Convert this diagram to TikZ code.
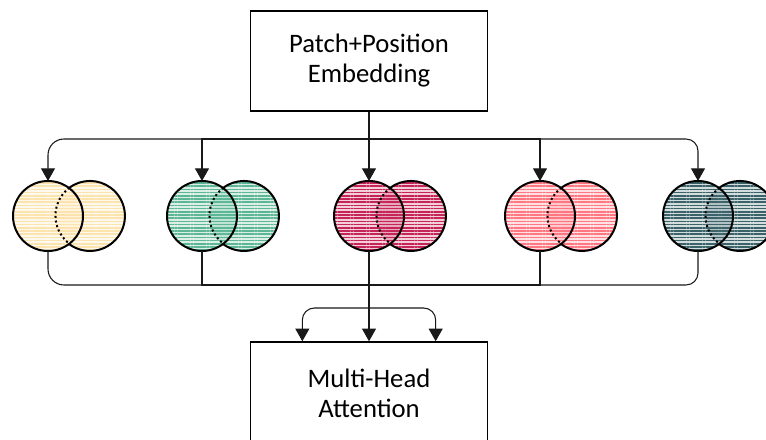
\documentclass[tikz,border=0pt]{standalone}
\usepackage{fontspec}
\setmainfont{Carlito}
\usetikzlibrary{arrows.meta,patterns.meta}

\definecolor{ylw}{RGB}{252,226,172}
\definecolor{grn}{RGB}{90,182,148}
\definecolor{crm}{RGB}{196,36,86}
\definecolor{pnk}{RGB}{255,118,128}
\definecolor{slt}{RGB}{58,98,104}

\begin{document}
\begin{tikzpicture}[x=0.75pt,y=0.75pt,>={Triangle[length=9.5pt,width=10.5pt]},
  box/.style={draw,line width=1.1pt,minimum width=178pt,align=center,
    font=\fontsize{20}{22.5}\selectfont},
  link/.style={line width=0.8pt,black!90},
  ring/.style={line width=1.5pt},
  head/.style={circle,inner sep=0pt,outer sep=0pt,minimum size=52.5pt},
  hatch/.style={preaction={fill=#1,fill opacity=0.22},
    pattern={Lines[angle=0,distance=2.4pt,line width=1.3pt]},pattern color=#1}]
\clip (0,0) rectangle (766,439);

\node[box,minimum height=75pt] (patch) at (369,378) {Patch+Position\\Embedding};
\node[box,minimum height=76.5pt] (mha) at (369,46) {Multi-Head\\Attention};

% five heads, each a pair of overlapping circles
\node[head,hatch=ylw] (d1) at (90,223) {};
\node[head,hatch=ylw,draw,ring] (c1) at (48,223) {};
\node[head,hatch=grn] (d2) at (244,223) {};
\node[head,hatch=grn,draw,ring] (c2) at (202,223) {};
\node[head,hatch=crm] (d3) at (411,223) {};
\node[head,hatch=crm,draw,ring] (c3) at (369,223) {};
\node[head,hatch=pnk] (d4) at (582,223) {};
\node[head,hatch=pnk,draw,ring] (c4) at (540,223) {};
\node[head,hatch=slt] (d5) at (740,223) {};
\node[head,hatch=slt,draw,ring] (c5) at (698,223) {};

% outline of the second circle: solid outside, dotted inside the first
\draw[ring] (d1.233.13) arc[start angle=-126.87,end angle=126.87,radius=26.25pt];
\draw[ring,dotted] (d1.126.87) arc[start angle=126.87,end angle=233.13,radius=26.25pt];
\draw[ring] (d2.233.13) arc[start angle=-126.87,end angle=126.87,radius=26.25pt];
\draw[ring,dotted] (d2.126.87) arc[start angle=126.87,end angle=233.13,radius=26.25pt];
\draw[ring] (d3.233.13) arc[start angle=-126.87,end angle=126.87,radius=26.25pt];
\draw[ring,dotted] (d3.126.87) arc[start angle=126.87,end angle=233.13,radius=26.25pt];
\draw[ring] (d4.233.13) arc[start angle=-126.87,end angle=126.87,radius=26.25pt];
\draw[ring,dotted] (d4.126.87) arc[start angle=126.87,end angle=233.13,radius=26.25pt];
\draw[ring] (d5.233.13) arc[start angle=-126.87,end angle=126.87,radius=26.25pt];
\draw[ring,dotted] (d5.126.87) arc[start angle=126.87,end angle=233.13,radius=26.25pt];

% split the embedding to every head
\coordinate (split) at (369,300);
\draw[link,->] (patch.south) -- (c3.north);
\draw[link,->,rounded corners=12pt] (split) -| (c1.north);
\draw[link,->] (split) -| (c2.north);
\draw[link,->] (split) -| (c4.north);
\draw[link,->,rounded corners=9pt] (split) -| (c5.north);

% merge the heads again
\coordinate (merge) at (369,154);
\draw[link,rounded corners=12pt] (c1.south) |- (merge);
\draw[link] (c2.south) |- (merge);
\draw[link] (c4.south) |- (merge);
\draw[link,rounded corners=9pt] (c5.south) |- (merge);
\draw[link,->] (c3.south) -- (mha.north);

\coordinate (fork) at (369,131);
\draw[link,->,rounded corners=9pt] (fork) -| ([xshift=-50pt]mha.north);
\draw[link,->,rounded corners=9pt] (fork) -| ([xshift=50pt]mha.north);
\end{tikzpicture}
\end{document}
